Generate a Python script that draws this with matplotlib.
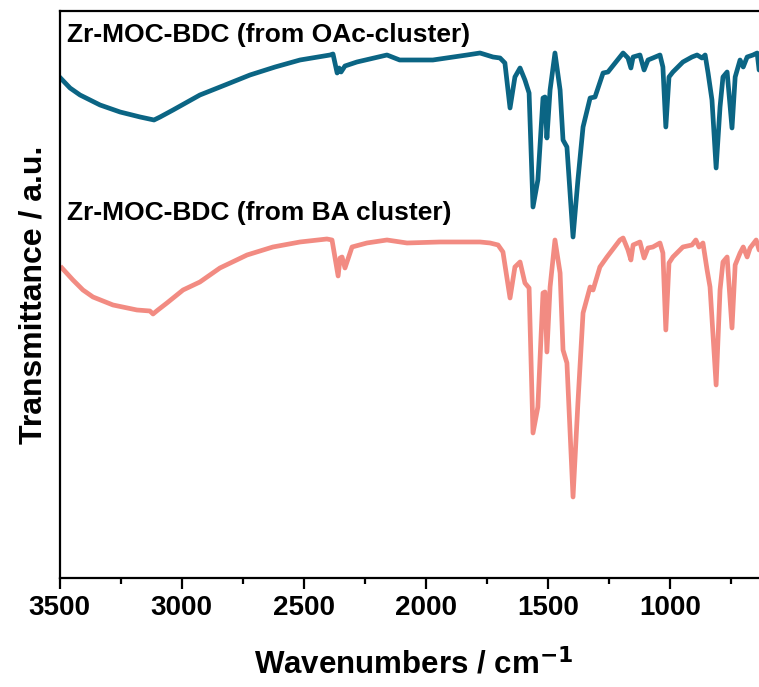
import matplotlib
matplotlib.use("Agg")
import matplotlib.pyplot as plt
from matplotlib.ticker import MultipleLocator

# FTIR spectra, offset transmittance (a.u.) vs wavenumber (cm-1)
wn_oac = [3500, 3457, 3416, 3334, 3252, 3170, 3113, 3088, 3035, 2925, 2822, 2720,
          2617, 2515, 2392, 2380, 2363, 2355, 2347, 2331, 2282, 2159, 2107, 1971,
          1831, 1778, 1725, 1696, 1676, 1655, 1635, 1614, 1594, 1577, 1561, 1541,
          1520, 1512, 1504, 1491, 1471, 1450, 1438, 1422, 1397, 1377, 1356, 1327,
          1307, 1274, 1254, 1192, 1172, 1160, 1151, 1123, 1106, 1090, 1070, 1041,
          1029, 1017, 1004, 988, 947, 910, 889, 869, 856, 844, 828, 811, 795, 783,
          766, 746, 733, 713, 700, 684, 660, 643, 635, 620, 600]
t_oac = [5.01, 4.90, 4.83, 4.73, 4.66, 4.61, 4.58, 4.61, 4.68, 4.83, 4.93, 5.03,
         5.11, 5.18, 5.23, 5.24, 5.05, 5.10, 5.06, 5.12, 5.16, 5.23, 5.18, 5.18,
         5.23, 5.25, 5.21, 5.20, 5.15, 4.70, 5.01, 5.10, 4.98, 4.85, 3.71, 3.98,
         4.80, 4.81, 4.40, 4.88, 5.25, 4.88, 4.38, 4.31, 3.41, 3.98, 4.51, 4.80,
         4.81, 5.05, 5.06, 5.25, 5.20, 5.10, 5.21, 5.23, 5.08, 5.18, 5.20, 5.23,
         5.11, 4.51, 5.01, 5.06, 5.16, 5.21, 5.23, 5.20, 5.23, 5.05, 4.78, 4.10,
         4.71, 5.01, 5.06, 4.50, 5.01, 5.18, 5.11, 5.21, 5.23, 5.25, 5.08, 5.10,
         5.10]

wn_ba = [3490, 3445, 3404, 3363, 3281, 3183, 3130, 3117, 3097, 3060, 2994, 2925,
         2843, 2732, 2626, 2515, 2405, 2384, 2359, 2351, 2343, 2331, 2302, 2241,
         2159, 2077, 1942, 1778, 1737, 1704, 1684, 1655, 1635, 1614, 1594, 1577,
         1561, 1541, 1520, 1512, 1504, 1491, 1471, 1450, 1438, 1422, 1397, 1377,
         1356, 1327, 1315, 1287, 1258, 1205, 1192, 1172, 1160, 1151, 1123, 1106,
         1090, 1070, 1041, 1029, 1017, 1004, 988, 947, 910, 894, 881, 865, 848,
         836, 811, 795, 783, 766, 746, 733, 713, 700, 684, 672, 647, 635, 600]
t_ba = [3.10, 2.98, 2.88, 2.81, 2.73, 2.68, 2.67, 2.64, 2.68, 2.75, 2.88, 2.96,
        3.10, 3.23, 3.31, 3.36, 3.39, 3.38, 3.02, 3.20, 3.21, 3.10, 3.31, 3.35,
        3.38, 3.35, 3.36, 3.36, 3.35, 3.33, 3.26, 2.80, 3.11, 3.16, 2.95, 2.90,
        1.45, 1.71, 2.85, 2.86, 2.26, 2.91, 3.38, 3.05, 2.28, 2.15, 0.81, 1.75,
        2.65, 2.91, 2.88, 3.11, 3.21, 3.38, 3.40, 3.28, 3.18, 3.33, 3.36, 3.20,
        3.30, 3.31, 3.35, 3.25, 2.48, 3.15, 3.21, 3.31, 3.33, 3.38, 3.31, 3.35,
        3.08, 2.91, 1.93, 2.88, 3.16, 3.21, 2.50, 3.13, 3.25, 3.31, 3.21, 3.30,
        3.38, 3.28, 3.30]

labels = ["Zr-MOC-BDC (from OAc-cluster)", "Zr-MOC-BDC (from BA cluster)"]
colors = ["#0b6584", "#f28b82"]

plt.rcParams["font.family"] = ["Liberation Sans", "DejaVu Sans"]
plt.rcParams["font.weight"] = "bold"

fig = plt.figure(figsize=(7.59, 6.87), dpi=100)
ax = fig.add_axes([0.0784, 0.1587, 0.933, 0.8253])

ax.plot(wn_oac, t_oac, color=colors[0], lw=3.4, solid_joinstyle="round")
ax.plot(wn_ba, t_ba, color=colors[1], lw=3.4, solid_joinstyle="round")

ax.text(3468, 5.43, labels[0], fontsize=19, fontweight="bold", va="center")
ax.text(3468, 3.65, labels[1], fontsize=19, fontweight="bold", va="center")

ax.set_xlim(3500, 600)
ax.set_ylim(0, 5.67)
ax.xaxis.set_major_locator(MultipleLocator(500))
ax.xaxis.set_minor_locator(MultipleLocator(250))
ax.set_yticks([])
for s in ax.spines.values():
    s.set_linewidth(1.6)
ax.tick_params(axis="x", which="major", length=8, width=1.6, labelsize=20, pad=4)
ax.tick_params(axis="x", which="minor", length=4.5, width=1.6)

ax.set_xlabel("Wavenumbers / cm$^{\\mathbf{-1}}$", fontsize=22.5, fontweight="bold", labelpad=20)
ax.set_ylabel("Transmittance / a.u.", fontsize=23, fontweight="bold", labelpad=8)

fig.savefig("out.png", dpi=100)
